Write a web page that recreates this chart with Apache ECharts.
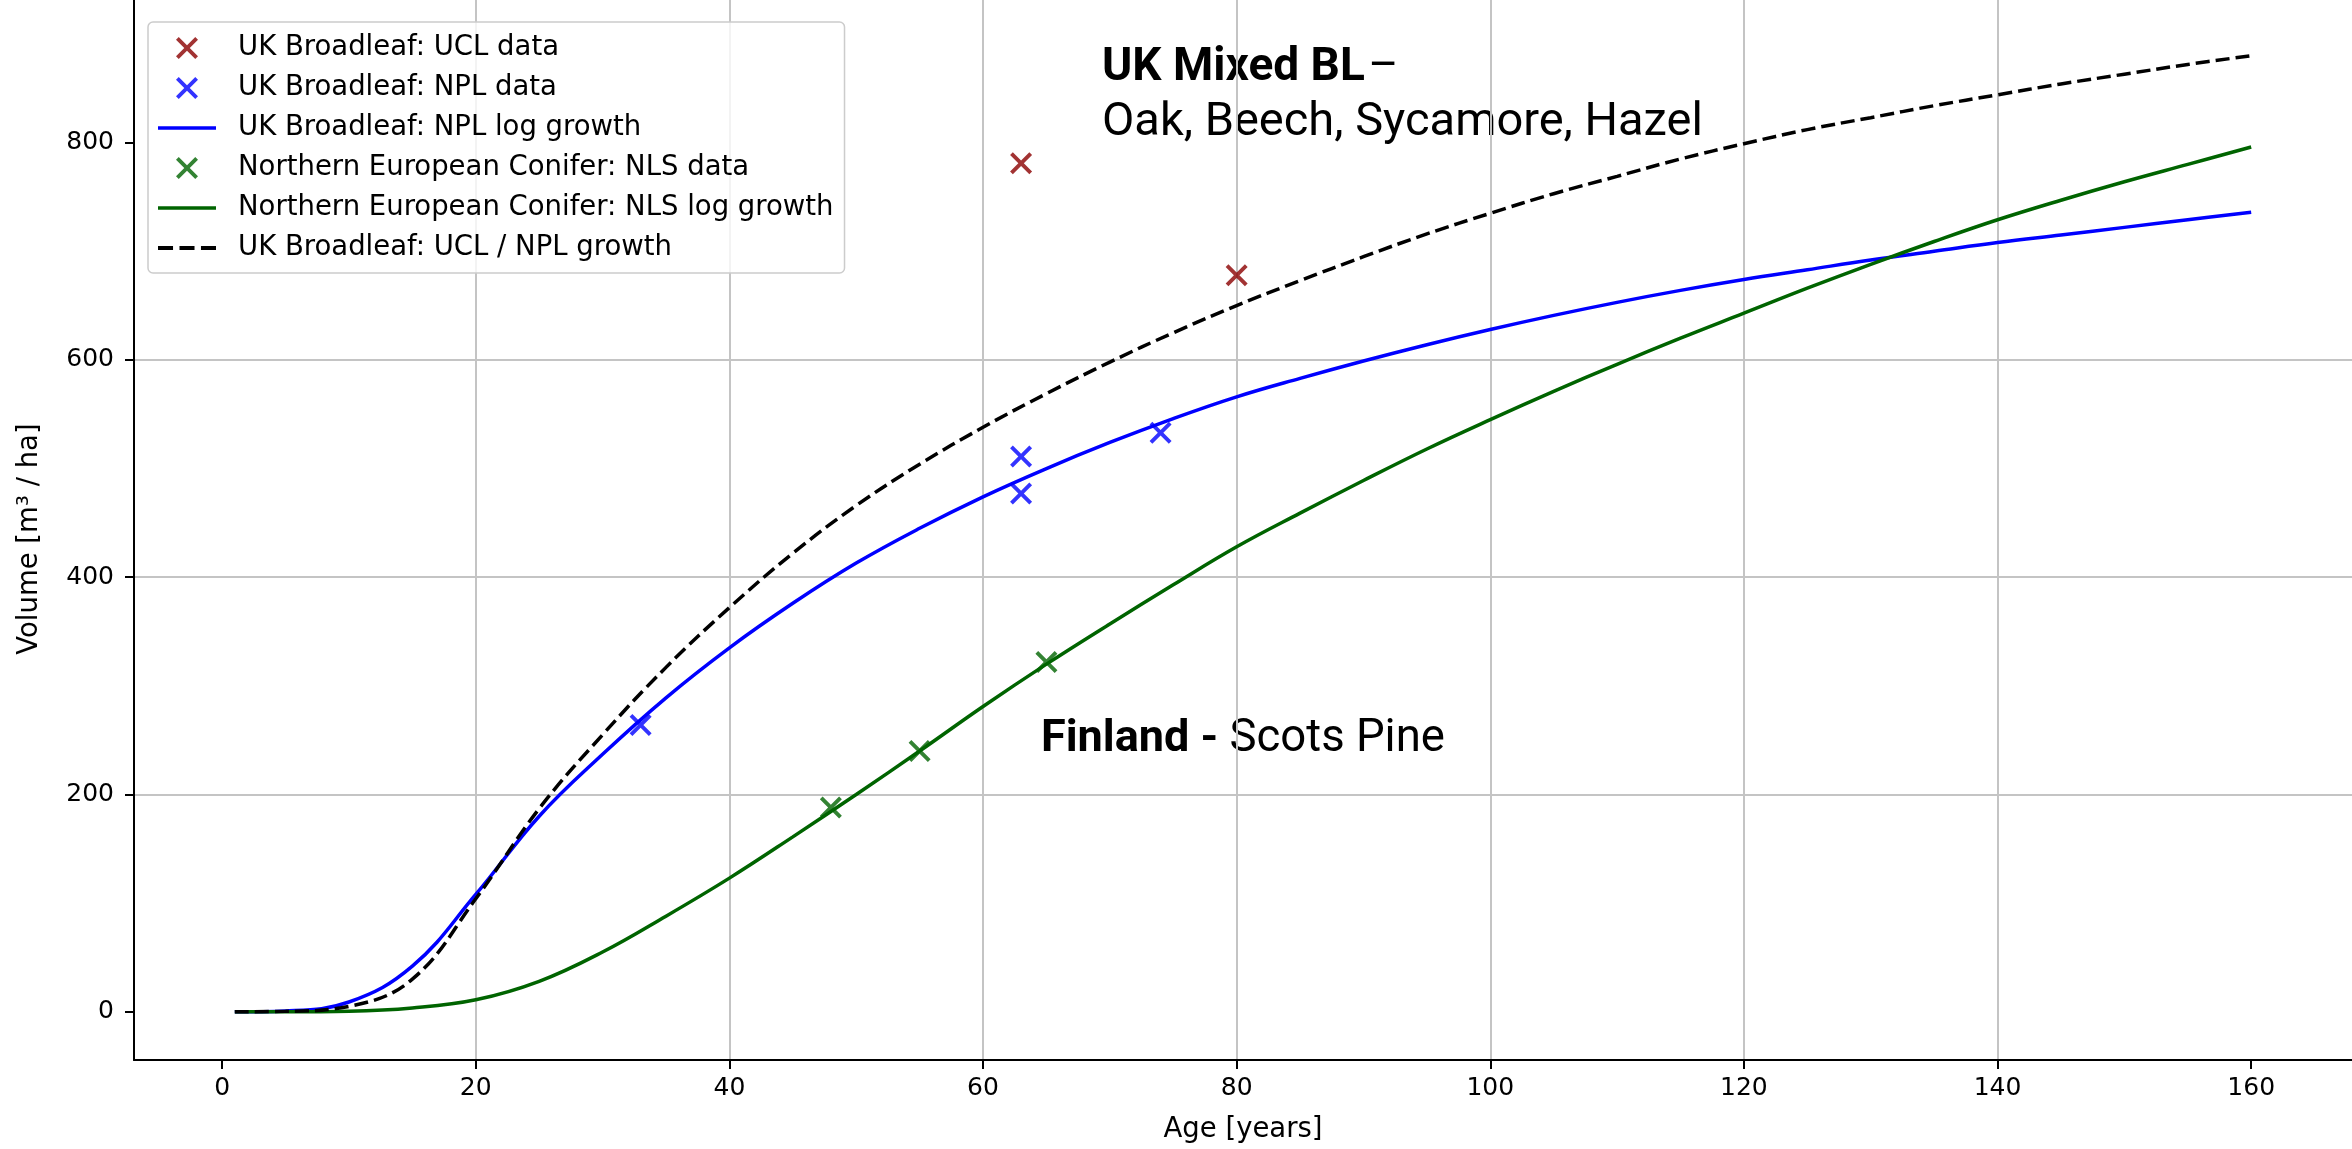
<!DOCTYPE html>
<html>
<head>
<meta charset="utf-8">
<script src="https://cdn.jsdelivr.net/npm/echarts@6/dist/echarts.min.js"></script>
<style>
  html, body { margin: 0; padding: 0; background: #fff; }
  #growth { width: 2352px; height: 1149px; }
</style>
</head>
<body>
<div id="growth"></div>
<script>
  // ages used for the fitted curves
  var ages = [1, 5, 10, 15, 20, 25, 30, 35, 40, 45, 50, 55, 60, 65, 70, 75, 80, 85, 90, 95, 100, 105, 110, 115, 120, 125, 130, 135, 140, 145, 150, 155, 160];
  var nplGrowth = [0, 0.8, 9, 42, 108, 180, 237, 289, 335, 376, 413, 445, 474, 500, 524, 546, 566, 583, 599, 614, 628, 641, 653, 664, 674, 683, 692, 700, 708, 715, 722, 729, 736];
  var nlsGrowth = [0, 0, 0.5, 3.5, 11, 28, 55, 88, 123, 161, 200, 240, 281, 320, 357, 393, 428, 459, 489, 518, 545, 571, 596, 620, 643, 666, 688, 709, 729, 747, 764, 780, 796];
  var uclNplGrowth = [0, 0.4, 5, 30, 104, 187, 255, 317, 372, 422, 466, 504, 538, 569, 598, 625, 650, 673, 695, 716, 735, 753, 769, 785, 799, 812, 823, 834, 844, 854, 863, 872, 880];

  // measured plots
  var uclAges = [63, 80];
  var uclVolumes = [781, 678];
  var nplAges = [33, 63, 63, 74];
  var nplVolumes = [264, 511, 477, 533];
  var nlsAges = [48, 55, 65];
  var nlsVolumes = [188, 240, 322];

  var xTicks = [0, 20, 40, 60, 80, 100, 120, 140, 160];
  var yTicks = [0, 200, 400, 600, 800];

  function pairs(xs, ys) {
    return xs.map(function (x, i) { return [x, ys[i]]; });
  }

  // matplotlib style "x" marker, plus legend strokes
  var cross = 'path://M0,3L3,0L12,9L21,0L24,3L15,12L24,21L21,24L12,15L3,24L0,21L9,12Z';
  var solidIcon = 'path://M0,0H58V3.5H0Z';
  var dashIcon = 'path://M0,0H14V3.5H0ZM20,0H34V3.5H20ZM40,0H54V3.5H40Z';

  var tickFont = {fontFamily: 'DejaVu Sans', fontSize: 25, color: '#000'};
  var nameFont = {fontFamily: 'DejaVu Sans', fontSize: 27.5, color: '#000'};

  var myChart = echarts.init(document.getElementById('growth'));
  myChart.setOption({
    animation: false,
    grid: {left: 134, top: 0, width: 2226.5, height: 1063, containLabel: false},
    legend: {
      orient: 'vertical',
      left: 148,
      top: 22,
      selectedMode: false,
      itemWidth: 58,
      itemHeight: 22,
      itemGap: 12,
      padding: [12, 11, 11, 10],
      backgroundColor: 'rgba(255,255,255,0.8)',
      borderColor: '#cccccc',
      borderWidth: 1.5,
      borderRadius: 5,
      textStyle: {fontFamily: 'DejaVu Sans', fontSize: 27.5, color: '#000', lineHeight: 28, padding: [0, 0, 0, 17]},
      data: [
        {name: 'UK Broadleaf: UCL data'},
        {name: 'UK Broadleaf: NPL data'},
        {name: 'UK Broadleaf: NPL log growth', icon: solidIcon},
        {name: 'Northern European Conifer: NLS data'},
        {name: 'Northern European Conifer: NLS log growth', icon: solidIcon},
        {name: 'UK Broadleaf: UCL / NPL growth', icon: dashIcon}
      ]
    },
    xAxis: {
      type: 'value',
      min: -6.95,
      max: 167.95,
      splitNumber: 9,
      name: 'Age [years]',
      nameLocation: 'middle',
      nameGap: 56,
      nameTextStyle: nameFont,
      axisLine: {onZero: false, lineStyle: {color: '#000', width: 2}},
      axisTick: {customValues: xTicks, length: 9, lineStyle: {color: '#000', width: 2}},
      axisLabel: Object.assign({customValues: xTicks, margin: 16}, tickFont),
      splitLine: {show: true, showMinLine: false, showMaxLine: false, lineStyle: {color: '#c4c4c4', width: 2}}
    },
    yAxis: {
      type: 'value',
      min: -44.4,
      max: 931.3,
      splitNumber: 5,
      name: 'Volume [m³ / ha]',
      nameLocation: 'middle',
      nameGap: 90,
      nameTextStyle: Object.assign({padding: [0, 18, 0, 0]}, nameFont),
      axisLine: {onZero: false, lineStyle: {color: '#000', width: 2}},
      axisTick: {customValues: yTicks, length: 9, lineStyle: {color: '#000', width: 2}},
      axisLabel: Object.assign({customValues: yTicks, margin: 20}, tickFont),
      splitLine: {show: true, showMinLine: false, showMaxLine: false, lineStyle: {color: '#c4c4c4', width: 2}}
    },
    graphic: [
      {
        type: 'text', x: 1102, y: 68,
        style: {
          text: '{b|UK Mixed BL} {r|–}',
          verticalAlign: 'middle',
          fill: '#000',
          rich: {
            b: {fontFamily: 'Roboto', fontWeight: 'bold', fontSize: 46, fill: '#000'},
            r: {fontFamily: 'Roboto', fontSize: 46, fill: '#000'}
          }
        }
      },
      {
        type: 'text', x: 1102, y: 123,
        style: {text: 'Oak, Beech, Sycamore, Hazel', fontFamily: 'Roboto', fontSize: 47, fill: '#000', verticalAlign: 'middle'}
      },
      {
        type: 'text', x: 1041, y: 740,
        style: {
          text: '{b|Finland - }{r|Scots Pine}',
          verticalAlign: 'middle',
          fill: '#000',
          rich: {
            b: {fontFamily: 'Roboto', fontWeight: 'bold', fontSize: 45, fill: '#000'},
            r: {fontFamily: 'Roboto', fontSize: 45.5, fill: '#000'}
          }
        }
      }
    ],
    series: [
      {
        name: 'UK Broadleaf: UCL data',
        type: 'scatter',
        symbol: cross,
        symbolSize: 22,
        itemStyle: {color: '#8b0000'},
        data: pairs(uclAges, uclVolumes)
      },
      {
        name: 'UK Broadleaf: NPL data',
        type: 'scatter',
        symbol: cross,
        symbolSize: 22,
        itemStyle: {color: '#0000ff'},
        data: pairs(nplAges, nplVolumes)
      },
      {
        name: 'UK Broadleaf: NPL log growth',
        type: 'line',
        symbol: 'none',
        smooth: 0.4,
        itemStyle: {color: '#0000ff'},
        lineStyle: {color: '#0000ff', width: 3.5},
        data: pairs(ages, nplGrowth)
      },
      {
        name: 'Northern European Conifer: NLS data',
        type: 'scatter',
        symbol: cross,
        symbolSize: 22,
        itemStyle: {color: '#006400'},
        data: pairs(nlsAges, nlsVolumes)
      },
      {
        name: 'Northern European Conifer: NLS log growth',
        type: 'line',
        symbol: 'none',
        smooth: 0.4,
        itemStyle: {color: '#006400'},
        lineStyle: {color: '#006400', width: 3.5},
        data: pairs(ages, nlsGrowth)
      },
      {
        name: 'UK Broadleaf: UCL / NPL growth',
        type: 'line',
        symbol: 'none',
        smooth: 0.4,
        itemStyle: {color: '#000'},
        lineStyle: {color: '#000', width: 3.5, type: [14, 6]},
        data: pairs(ages, uclNplGrowth)
      }
    ]
  });
</script>
</body>
</html>
